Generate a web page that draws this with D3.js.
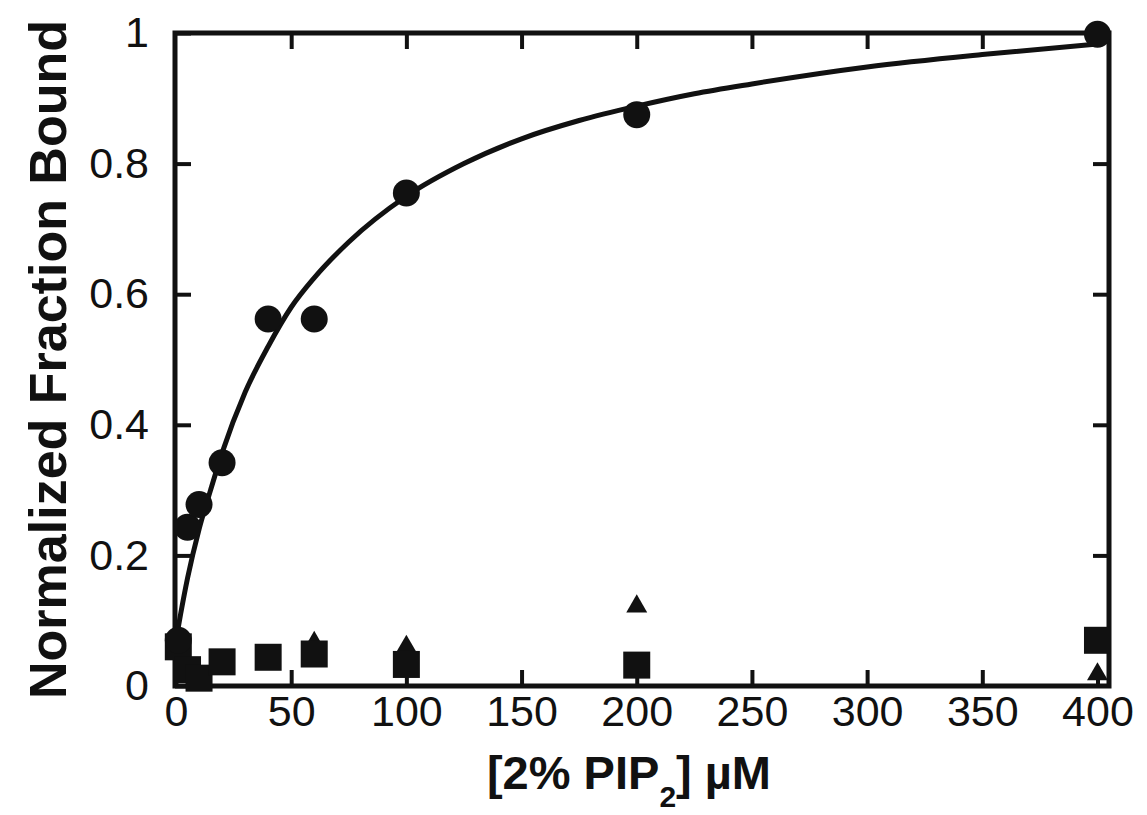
<!DOCTYPE html>
<html>
<head>
<meta charset="utf-8">
<script src="https://cdn.jsdelivr.net/npm/d3@7"></script>
<style>
  html, body { margin: 0; padding: 0; background: #ffffff; }
  svg { display: block; }
  .tick text { font-family: "Liberation Sans", Arial, sans-serif; fill: #111; }
</style>
</head>
<body>
<svg id="chart" width="1147" height="815"></svg>
<script>
// Binding of protein to 2% PIP2 vesicles
const circleConc  = [1, 5, 10, 20, 40, 60, 100, 200, 400];
const circleBound = [0.07, 0.243, 0.278, 0.342, 0.562, 0.562, 0.755, 0.875, 0.998];

const squareConc  = [1, 5, 10, 20, 40, 60, 100, 200, 400];
const squareBound = [0.06, 0.025, 0.012, 0.037, 0.044, 0.049, 0.033, 0.032, 0.07];

const triangleConc  = [60, 100, 200, 400];
const triangleBound = [0.066, 0.06, 0.122, 0.018];

// Hyperbolic fit through the circle series
const fitConc  = [0, 2, 5, 10, 15, 20, 30, 40, 50, 60, 75, 100, 125, 150, 175, 200, 225, 250, 300, 350, 400];
const fitBound = [0.07, 0.11, 0.165, 0.24, 0.30, 0.357, 0.45, 0.52, 0.58, 0.625, 0.68, 0.75, 0.80, 0.838, 0.866, 0.888, 0.907, 0.922, 0.948, 0.967, 0.983];

const xTicks = [0, 50, 100, 150, 200, 250, 300, 350, 400];
const yTicks = [0, 0.2, 0.4, 0.6, 0.8, 1];
const yTickLabels = ["0", "0.2", "0.4", "0.6", "0.8", "1"];

const svg = d3.select("#chart");
const plotLeft = 175, plotRight = 1109, plotTop = 33, plotBottom = 686;

const x = d3.scaleLinear().domain([0, 405]).range([plotLeft + 1, plotRight]);
const y = d3.scaleLinear().domain([0, 1]).range([plotBottom, plotTop]);

const tickLen = 16;
const tickFont = 43;

function styleAxis(g) {
  g.select(".domain").remove();
  g.selectAll(".tick line").attr("stroke", "#111").attr("stroke-width", 4);
  g.selectAll(".tick text").attr("font-size", tickFont);
}

// Bottom axis with labels
svg.append("g")
  .attr("transform", `translate(0,${plotBottom})`)
  .call(d3.axisBottom(x).tickValues(xTicks).tickSizeInner(-tickLen).tickSizeOuter(0).tickPadding(9).tickFormat(d3.format("d")))
  .call(styleAxis);

// Top axis: ticks only
svg.append("g")
  .attr("transform", `translate(0,${plotTop})`)
  .call(d3.axisTop(x).tickValues(xTicks.slice(1, -1)).tickSizeInner(-tickLen).tickSizeOuter(0).tickFormat(""))
  .call(styleAxis);

// Left axis with labels
svg.append("g")
  .attr("transform", `translate(${plotLeft},0)`)
  .call(d3.axisLeft(y).tickValues(yTicks).tickSizeInner(-tickLen).tickSizeOuter(0).tickPadding(26)
    .tickFormat((d, i) => yTickLabels[i]))
  .call(styleAxis);

// Right axis: ticks only
svg.append("g")
  .attr("transform", `translate(${plotRight},0)`)
  .call(d3.axisRight(y).tickValues(yTicks.slice(1, -1)).tickSizeInner(-tickLen).tickSizeOuter(0).tickFormat(""))
  .call(styleAxis);

// Plot frame
svg.append("rect")
  .attr("x", plotLeft).attr("y", plotTop)
  .attr("width", plotRight - plotLeft).attr("height", plotBottom - plotTop)
  .attr("fill", "none").attr("stroke", "#111").attr("stroke-width", 5);

// Fit curve
const fitData = fitConc.map((c, i) => [c, fitBound[i]]);
svg.append("path")
  .datum(fitData)
  .attr("fill", "none")
  .attr("stroke", "#111")
  .attr("stroke-width", 5)
  .attr("d", d3.line().x(d => x(d[0])).y(d => y(d[1])).curve(d3.curveMonotoneX));

// Triangles
const triData = triangleConc.map((c, i) => [c, triangleBound[i]]);
svg.append("g").selectAll("path")
  .data(triData).join("path")
  .attr("transform", d => `translate(${x(d[0])},${y(d[1])})`)
  .attr("d", d3.symbol(d3.symbolTriangle, 190))
  .attr("fill", "#111");

// Squares
const sqSize = 27;
const sqData = squareConc.map((c, i) => [c, squareBound[i]]);
svg.append("g").selectAll("rect")
  .data(sqData).join("rect")
  .attr("x", d => x(d[0]) - sqSize / 2)
  .attr("y", d => y(d[1]) - sqSize / 2)
  .attr("width", sqSize).attr("height", sqSize)
  .attr("fill", "#111");

// Circles
const circData = circleConc.map((c, i) => [c, circleBound[i]]);
svg.append("g").selectAll("circle")
  .data(circData).join("circle")
  .attr("cx", d => x(d[0]))
  .attr("cy", d => y(d[1]))
  .attr("r", 13.5)
  .attr("fill", "#111");

// Axis titles
svg.append("text")
  .attr("transform", `translate(${66},${(plotTop + plotBottom) / 2}) rotate(-90)`)
  .attr("text-anchor", "middle")
  .attr("font-family", "'Liberation Sans', Arial, sans-serif")
  .attr("font-weight", "bold")
  .attr("font-size", 52)
  .attr("fill", "#111")
  .text("Normalized Fraction Bound");

const xTitle = svg.append("text")
  .attr("x", (plotLeft + plotRight) / 2 - 13)
  .attr("y", 789)
  .attr("text-anchor", "middle")
  .attr("font-family", "'Liberation Sans', Arial, sans-serif")
  .attr("font-weight", "bold")
  .attr("font-size", 47)
  .attr("fill", "#111");
xTitle.append("tspan").text("[2% PIP");
xTitle.append("tspan").attr("font-size", 30).attr("dy", 18).text("2");
xTitle.append("tspan").attr("dy", -18).text("] µM");
</script>
</body>
</html>
